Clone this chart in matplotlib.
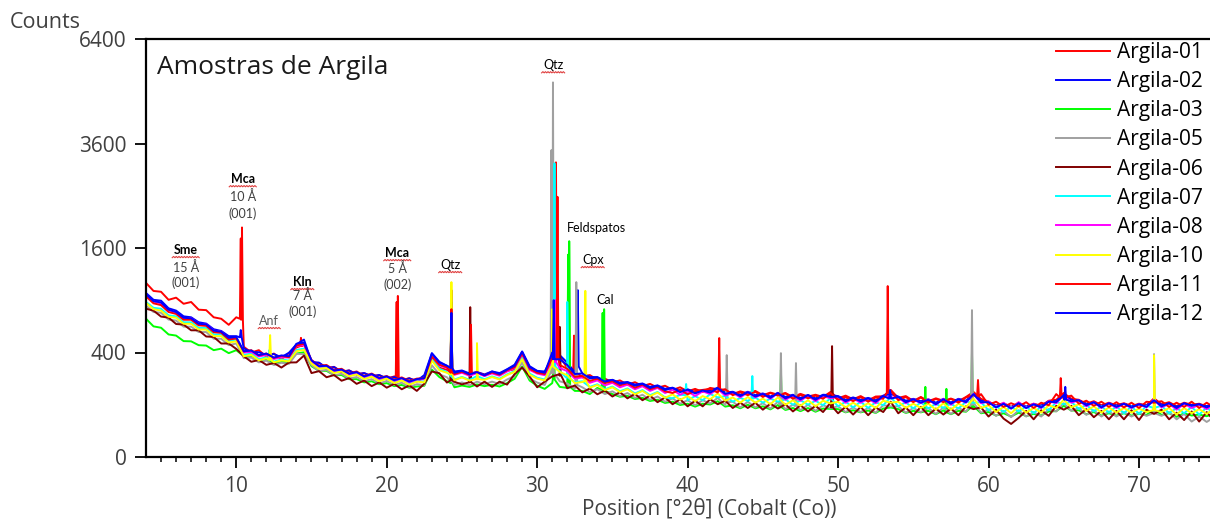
import numpy as np
import matplotlib.pyplot as plt
import matplotlib.transforms as mtransforms

plt.rcParams['font.family'] = ['Open Sans', 'DejaVu Sans']

# scan axis, 0.5 deg steps from 4 to 75 (deg 2theta, Co)
two_theta = np.arange(4.0, 75.01, 0.5)

# background counts per sample, one value per 0.5 deg (rows of 5 deg)
argila_01 = [1110, 1010, 1000, 905, 930, 860, 880, 795, 790, 715,
             700, 640, 715, 445, 400, 418, 368, 392, 350, 395,
             440, 465, 318, 325, 285, 298, 262, 275, 248, 258,
             236, 246, 224, 238, 215, 228, 208, 232, 350, 292,
             278, 250, 266, 245, 262, 242, 262, 246, 272, 282,
             372, 280, 262, 258, 380, 370, 290, 275, 238, 246,
             218, 225, 204, 215, 192, 205, 184, 196, 176, 186,
             165, 178, 158, 170, 155, 175, 168, 166, 145, 158,
             148, 160, 140, 152, 142, 150, 132, 146, 134, 142,
             132, 155, 126, 138, 122, 136, 118, 134, 135, 165,
             128, 136, 115, 132, 114, 126, 116, 125, 114, 132,
             155, 124, 112, 98, 106, 92, 108, 94, 104, 96,
             116, 120, 150, 124, 120, 104, 114, 98, 108, 98,
             106, 95, 104, 98, 126, 102, 110, 95, 108, 100,
             104, 94, 106]
argila_02 = [985, 905, 895, 810, 785, 725, 715, 665, 652, 598,
             582, 535, 535, 432, 405, 402, 382, 388, 365, 398,
             465, 505, 332, 326, 292, 296, 268, 274, 252, 258,
             240, 246, 226, 234, 216, 226, 212, 246, 395, 332,
             305, 268, 274, 256, 264, 250, 268, 258, 282, 312,
             408, 302, 272, 268, 420, 380, 326, 262, 256, 234,
             234, 212, 218, 202, 206, 192, 198, 180, 188, 170,
             176, 160, 168, 154, 164, 160, 176, 152, 156, 142,
             156, 140, 148, 134, 151, 132, 142, 128, 141, 126,
             142, 140, 136, 120, 130, 120, 128, 118, 138, 145,
             134, 116, 124, 114, 122, 108, 124, 109, 124, 116,
             146, 116, 110, 95, 103, 91, 105, 93, 101, 97,
             113, 115, 140, 120, 117, 103, 109, 95, 105, 97,
             103, 95, 101, 97, 120, 100, 105, 93, 105, 99,
             101, 95, 103]
argila_03 = [700, 625, 612, 550, 540, 492, 490, 458, 455, 418,
             430, 395, 418, 372, 375, 346, 348, 324, 330, 332,
             392, 402, 302, 272, 272, 245, 246, 222, 222, 204,
             210, 194, 200, 184, 190, 176, 182, 186, 280, 234,
             210, 178, 187, 180, 193, 184, 191, 182, 200, 224,
             300, 214, 186, 170, 200, 180, 175, 160, 160, 145,
             175, 155, 145, 133, 137, 123, 128, 115, 120, 107,
             112, 99, 104, 93, 104, 101, 114, 93, 98, 87,
             100, 87, 94, 83, 99, 81, 88, 77, 88, 75,
             86, 85, 84, 73, 80, 73, 79, 71, 86, 90,
             84, 71, 78, 73, 78, 67, 80, 67, 78, 75,
             96, 70, 74, 63, 70, 60, 72, 61, 68, 63,
             76, 77, 96, 79, 80, 67, 74, 63, 70, 63,
             70, 63, 68, 65, 82, 65, 70, 59, 70, 63,
             66, 61, 68]
argila_05 = [840, 770, 762, 692, 682, 622, 622, 572, 572, 512,
             512, 458, 472, 358, 362, 328, 340, 310, 325, 318,
             390, 388, 310, 270, 278, 244, 254, 226, 234, 210,
             222, 198, 212, 190, 202, 180, 194, 190, 308, 250,
             233, 190, 204, 188, 208, 194, 208, 195, 220, 240,
             328, 225, 203, 190, 268, 210, 198, 170, 178, 155,
             168, 145, 158, 136, 150, 128, 142, 120, 134, 112,
             126, 104, 118, 98, 118, 105, 128, 98, 112, 90,
             112, 90, 106, 86, 112, 84, 100, 80, 100, 78,
             98, 88, 94, 74, 90, 74, 88, 72, 98, 94,
             94, 72, 88, 74, 88, 68, 90, 68, 88, 76,
             108, 72, 83, 62, 78, 58, 80, 60, 74, 60,
             84, 76, 106, 78, 88, 65, 80, 60, 76, 60,
             74, 60, 72, 62, 92, 62, 74, 52, 68, 46,
             60, 45, 58]
argila_06 = [805, 785, 722, 712, 648, 642, 588, 588, 532, 528,
             472, 472, 428, 372, 332, 345, 311, 324, 293, 327,
             328, 377, 258, 270, 233, 246, 213, 228, 196, 214,
             184, 204, 176, 196, 168, 188, 160, 197, 268, 257,
             203, 207, 193, 204, 182, 208, 180, 208, 192, 252,
             293, 237, 178, 208, 238, 242, 173, 187, 153, 172,
             144, 162, 134, 154, 126, 146, 118, 138, 110, 130,
             102, 122, 94, 116, 94, 122, 102, 116, 88, 108,
             88, 108, 82, 104, 86, 102, 76, 98, 76, 96,
             74, 108, 70, 92, 66, 92, 64, 90, 74, 112,
             70, 90, 64, 92, 64, 86, 66, 86, 64, 94,
             84, 90, 60, 82, 54, 40, 56, 78, 52, 80,
             62, 96, 82, 96, 64, 84, 58, 78, 52, 78,
             52, 80, 50, 82, 68, 82, 52, 72, 50, 76,
             46, 74, 48]
argila_07 = [880, 815, 805, 735, 725, 665, 665, 610, 610, 550,
             550, 495, 505, 382, 392, 350, 365, 333, 349, 340,
             420, 430, 326, 290, 296, 262, 272, 242, 254, 226,
             240, 214, 229, 204, 219, 195, 211, 208, 350, 285,
             265, 220, 235, 218, 240, 222, 238, 224, 250, 270,
             360, 255, 230, 220, 310, 270, 250, 205, 210, 180,
             194, 168, 182, 158, 172, 148, 164, 140, 155, 130,
             126, 142, 118, 136, 118, 145, 130, 136, 112, 128,
             115, 130, 108, 125, 112, 122, 100, 118, 100, 116,
             98, 128, 94, 112, 90, 112, 88, 110, 98, 132,
             94, 110, 86, 110, 86, 104, 88, 104, 86, 112,
             108, 110, 80, 96, 74, 92, 76, 94, 70, 94,
             80, 110, 102, 112, 84, 100, 76, 94, 72, 94,
             70, 94, 68, 96, 88, 96, 70, 88, 70, 92,
             66, 90, 68]
argila_08 = [960, 885, 865, 790, 765, 705, 705, 650, 645, 585,
             575, 515, 520, 400, 405, 370, 382, 352, 365, 362,
             450, 460, 335, 298, 302, 270, 278, 250, 260, 234,
             248, 222, 236, 212, 226, 204, 220, 222, 375, 308,
             290, 248, 260, 242, 258, 240, 256, 242, 268, 290,
             390, 278, 255, 245, 340, 290, 270, 225, 232, 202,
             215, 188, 202, 178, 192, 168, 184, 160, 175, 150,
             165, 142, 158, 136, 158, 145, 170, 138, 152, 130,
             154, 130, 146, 124, 150, 120, 138, 116, 138, 114,
             136, 126, 132, 108, 126, 108, 124, 106, 134, 130,
             130, 106, 122, 106, 122, 100, 124, 100, 122, 108,
             145, 106, 114, 90, 108, 86, 110, 88, 104, 88,
             114, 106, 140, 108, 118, 94, 110, 88, 106, 88,
             104, 88, 102, 90, 122, 90, 104, 82, 104, 88,
             100, 84, 102]
argila_10 = [870, 800, 785, 720, 710, 650, 650, 595, 595, 535,
             535, 480, 490, 372, 382, 342, 357, 328, 342, 335,
             410, 420, 320, 285, 290, 258, 268, 238, 250, 222,
             236, 210, 225, 200, 215, 191, 208, 204, 340, 275,
             260, 216, 232, 214, 236, 218, 234, 220, 246, 265,
             350, 248, 225, 215, 305, 265, 245, 200, 206, 176,
             190, 164, 178, 154, 168, 144, 160, 136, 152, 128,
             144, 120, 136, 114, 136, 122, 148, 116, 130, 108,
             132, 108, 125, 102, 130, 100, 118, 96, 118, 94,
             116, 105, 112, 90, 108, 90, 106, 88, 116, 108,
             112, 88, 104, 88, 104, 82, 106, 82, 104, 90,
             125, 88, 98, 74, 92, 70, 94, 72, 88, 72,
             98, 88, 120, 90, 102, 78, 94, 72, 90, 72,
             88, 72, 86, 74, 106, 74, 88, 66, 88, 70,
             84, 68, 86]
argila_11 = [945, 865, 845, 770, 750, 690, 690, 635, 630, 570,
             565, 505, 515, 408, 418, 378, 392, 360, 374, 365,
             455, 470, 345, 305, 310, 278, 285, 256, 268, 240,
             255, 230, 240, 220, 232, 212, 225, 228, 368, 312,
             295, 252, 266, 248, 264, 246, 262, 248, 276, 295,
             395, 285, 260, 252, 360, 310, 285, 235, 240, 212,
             225, 200, 210, 188, 200, 176, 192, 168, 180, 158,
             150, 166, 144, 160, 165, 170, 152, 168, 140, 154,
             140, 156, 132, 150, 138, 148, 124, 142, 126, 138,
             124, 150, 118, 132, 114, 132, 112, 130, 124, 160,
             118, 132, 110, 130, 108, 124, 110, 124, 108, 130,
             140, 145, 100, 112, 92, 106, 94, 110, 88, 108,
             98, 145, 128, 138, 104, 116, 96, 112, 92, 110,
             90, 108, 88, 112, 108, 114, 92, 108, 92, 112,
             88, 108, 90]
argila_12 = [970, 890, 875, 795, 770, 710, 705, 650, 645, 585,
             575, 520, 528, 410, 415, 380, 392, 362, 378, 372,
             470, 480, 342, 302, 305, 274, 280, 254, 264, 238,
             252, 228, 238, 216, 228, 208, 222, 228, 392, 326,
             305, 260, 272, 250, 264, 244, 268, 252, 280, 305,
             405, 295, 270, 260, 400, 350, 310, 252, 256, 226,
             232, 208, 218, 196, 204, 186, 196, 174, 186, 164,
             175, 154, 166, 148, 162, 152, 174, 146, 154, 136,
             154, 134, 146, 128, 150, 126, 140, 122, 140, 120,
             140, 132, 134, 114, 128, 114, 126, 112, 136, 140,
             132, 110, 122, 108, 120, 102, 122, 104, 122, 110,
             145, 110, 110, 90, 104, 86, 106, 88, 102, 90,
             112, 110, 140, 114, 118, 98, 110, 90, 106, 92,
             104, 90, 102, 92, 118, 94, 106, 88, 106, 96,
             102, 90, 104]

# sharp reflections: (2theta, counts at foot, counts at top)
peaks_01 = [(10.3, 700, 1750), (10.38, 690, 1930), (14.3, 450, 520),
            (20.66, 225, 880), (20.74, 225, 950), (31.25, 360, 3180),
            (32.45, 260, 540)]
peaks_02 = [(10.3, 525, 590), (24.3, 290, 720), (31.05, 360, 1020),
            (32.7, 300, 1020)]
peaks_03 = [(24.3, 200, 880), (31.1, 220, 2600), (32.06, 185, 1500),
            (32.13, 180, 1706), (34.35, 165, 760), (34.45, 160, 800),
            (46.2, 90, 277), (55.8, 76, 180), (57.2, 72, 170),
            (58.9, 90, 403)]
peaks_05 = [(24.3, 210, 850), (30.95, 260, 3450), (31.05, 260, 5140),
            (32.6, 190, 1120), (42.6, 110, 380), (46.2, 100, 395),
            (47.2, 95, 323), (58.9, 100, 790), (71.0, 70, 388)]
peaks_06 = [(24.3, 215, 1020), (25.55, 205, 822), (31.5, 250, 620),
            (49.6, 90, 450)]
peaks_07 = [(12.2, 350, 419), (31.15, 300, 3160), (32.0, 230, 880),
            (39.9, 140, 195), (44.3, 125, 240)]
peaks_08 = [(31.2, 330, 900)]
peaks_10 = [(12.25, 345, 544), (24.3, 250, 1120), (26.0, 222, 475),
            (31.0, 300, 800), (33.2, 210, 1011), (71.0, 80, 380)]
peaks_11 = [(24.3, 260, 800), (25.6, 256, 640), (31.35, 350, 2480),
            (42.1, 160, 518), (53.3, 150, 1070), (59.3, 135, 217),
            (64.8, 130, 228)]
peaks_12 = [(24.3, 290, 760), (31.1, 350, 900), (53.45, 125, 164),
            (65.1, 120, 180)]

names = ["Argila-01", "Argila-02", "Argila-03", "Argila-05", "Argila-06",
         "Argila-07", "Argila-08", "Argila-10", "Argila-11", "Argila-12"]
colors = ["#FF0000", "#0000FF", "#00FF00", "#A0A0A0", "#800000",
          "#00FFFF", "#FF00FF", "#FFFF00", "#FF0000", "#0000FF"]
counts = [argila_01, argila_02, argila_03, argila_05, argila_06,
          argila_07, argila_08, argila_10, argila_11, argila_12]
peaks = [peaks_01, peaks_02, peaks_03, peaks_05, peaks_06,
         peaks_07, peaks_08, peaks_10, peaks_11, peaks_12]

W, H = 1210, 521
fig = plt.figure(figsize=(W / 100, H / 100), dpi=100)
ax = fig.add_axes([146 / W, 1 - 457 / H, 1 - 146 / W, (457 - 39) / H])

for name, color, y0, pk in zip(names, colors, counts, peaks):
    xs = list(two_theta)
    ys = list(y0)
    for pos, foot, top in pk:
        xs += [pos - 0.06, pos, pos + 0.06]
        ys += [foot, top, foot]
    order = np.argsort(xs, kind="stable")
    ax.plot(np.array(xs)[order], np.array(ys)[order], color=color, lw=1.4,
            label=name)

ax.set_yscale("function", functions=(lambda v: np.sqrt(np.clip(v, 0, None)),
                                      lambda v: np.square(v)))
ax.set_ylim(0, 6400)
ax.set_xlim(4, 74.72)
ax.set_yticks([0, 400, 1600, 3600, 6400])
ax.set_yticklabels(["0", "400", "1600", "3600", "6400"])
ax.set_yticks([], minor=True)
ax.set_xticks([10, 20, 30, 40, 50, 60, 70])
ax.set_xticks(np.arange(5, 75, 1), minor=True)

for side in ["left", "bottom", "top"]:
    ax.spines[side].set_linewidth(1.6)
ax.spines["right"].set_visible(False)
ax.tick_params(which="major", length=8, width=1.3, labelsize=15,
               labelcolor="#404040", pad=6)
ax.tick_params(axis="x", which="minor", length=3.5, width=1.1)

fig.text(10 / W, 1 - 22 / H, "Counts", fontsize=15.5, color="#404040",
         va="center", ha="left")
fig.text(709 / W, 1 - 509 / H, "Position [°2θ] (Cobalt (Co))", fontsize=15,
         color="#404040", ha="center", va="center")
ax.text(157 / W, 1 - 67 / H, "Amostras de Argila", transform=fig.transFigure,
        fontsize=19, color="#1a1a1a", ha="left", va="center")

ax.legend(loc="upper left", bbox_to_anchor=(1056 / W, 1 - 42 / H),
          bbox_transform=fig.transFigure, frameon=False, fontsize=15,
          handlelength=2.6, handletextpad=0.35, labelspacing=0.39,
          borderpad=0, borderaxespad=0)

# phase labels: text, 2theta, counts, weight, colour, wavy underline width (px)
phase_labels = [
    ("Sme", 6.64, 1567, "bold", "#000000", 27),
    ("15 Å", 6.64, 1320, "normal", "#404040", 0),
    ("(001)", 6.64, 1107, "normal", "#404040", 0),
    ("Mca", 10.43, 2825, "bold", "#000000", 27),
    ("10 Å", 10.43, 2490, "normal", "#404040", 0),
    ("(001)", 10.43, 2176, "normal", "#404040", 0),
    ("Anf", 12.19, 676, "normal", "#595959", 22),
    ("Kln", 14.39, 1120, "bold", "#000000", 23),
    ("7 Å", 14.39, 959, "normal", "#404040", 0),
    ("(001)", 14.39, 769, "normal", "#404040", 0),
    ("Mca", 20.70, 1521, "bold", "#000000", 27),
    ("5 Å", 20.70, 1306, "normal", "#404040", 0),
    ("(002)", 20.70, 1082, "normal", "#404040", 0),
    ("Qtz", 24.22, 1348, "normal", "#000000", 23),
    ("Qtz", 31.06, 5618, "normal", "#000000", 23),
    ("Feldspatos", 33.95, 1917, "normal", "#000000", 0),
    ("Cpx", 33.69, 1419, "normal", "#000000", 23),
    ("Cal", 34.49, 901, "normal", "#000000", 0),
]

for text, xd, yd, weight, col, wavy in phase_labels:
    ax.text(xd, yd, text, fontsize=9, family=["Lato", "DejaVu Sans"],
            fontweight=weight, color=col, ha="center", va="center", zorder=5)
    if wavy:
        n = int(wavy / 2.5) * 2 + 1
        px = np.linspace(-wavy / 2, wavy / 2, n)
        py = -7.5 + 1.2 * (np.arange(n) % 2)
        tr = mtransforms.Affine2D().scale(1, -1) + \
            mtransforms.ScaledTranslation(xd, yd, ax.transData)
        ax.plot(px, -py, color="#E04040", lw=0.8, transform=tr, zorder=5,
                clip_on=False)

fig.savefig("out.png", dpi=100)
